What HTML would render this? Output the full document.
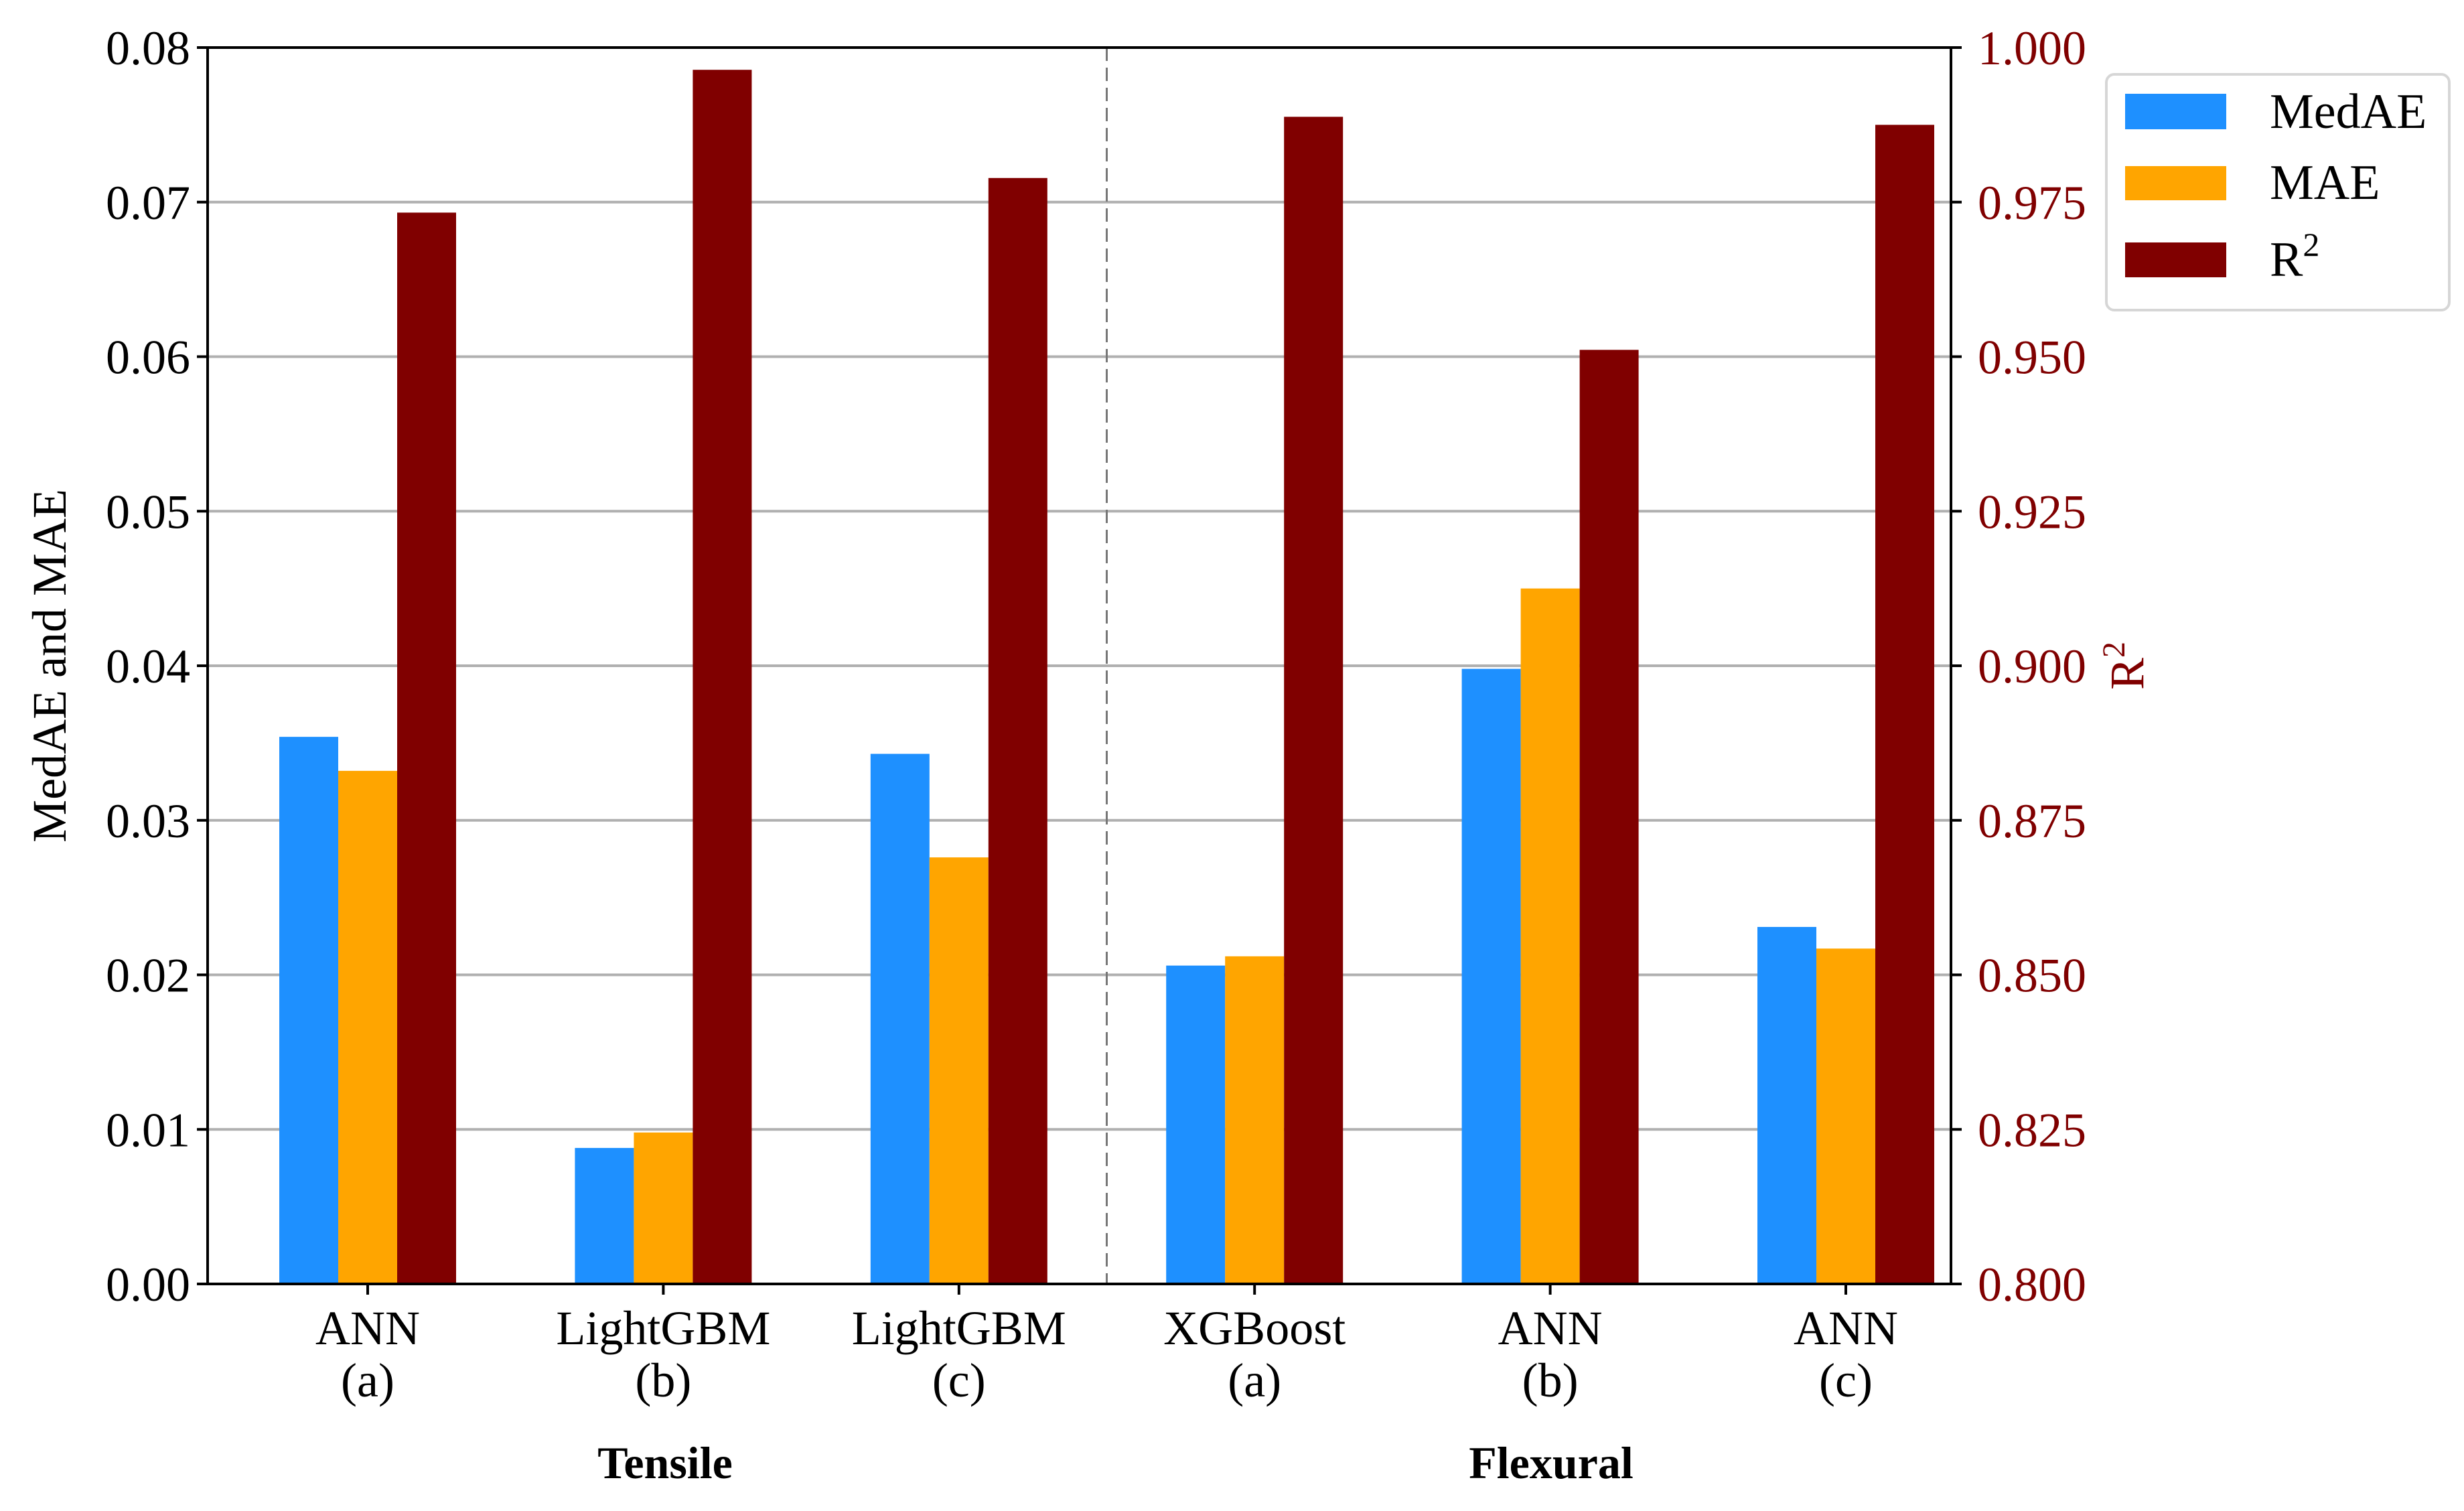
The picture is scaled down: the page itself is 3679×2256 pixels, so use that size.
<!DOCTYPE html>
<html><head><meta charset="utf-8"><style>
html,body{margin:0;padding:0;background:#fff;}
svg{display:block;}
text{font-family:"Liberation Serif",serif;}
</style></head>
<body>
<svg id="chart" width="3679" height="2256" viewBox="0 0 3679 2256" xmlns="http://www.w3.org/2000/svg">
<g id="grid"></g>
<g id="bars"></g>
<g id="axes"></g>
<text x="0" y="0" font-size="72" text-anchor="middle" transform="translate(98,994) rotate(-90)">MedAE and MAE</text>
<text x="0" y="0" font-size="72" fill="#800000" text-anchor="middle" transform="translate(3200,994) rotate(-90)">R<tspan font-size="48" dy="-28">2</tspan></text>
<text x="993" y="2207" font-size="68" font-weight="bold" text-anchor="middle">Tensile</text>
<text x="2316" y="2207" font-size="68" font-weight="bold" text-anchor="middle">Flexural</text>
<g>
<rect x="3145" y="111" width="512" height="352" rx="12" fill="#fff" stroke="#d6d6d6" stroke-width="4"/>
<rect x="3173" y="140" width="151" height="53" fill="#1e90ff"/>
<text x="3389" y="191" font-size="74">MedAE</text>
<rect x="3173" y="248" width="151" height="51" fill="#ffa500"/>
<text x="3389" y="297" font-size="74">MAE</text>
<rect x="3173" y="362" width="151" height="52" fill="#800000"/>
<text x="3389" y="412" font-size="74">R<tspan font-size="50" dy="-30">2</tspan></text>
</g>
</svg>
<script>
const categories = ["ANN", "LightGBM", "LightGBM", "XGBoost", "ANN", "ANN"];
const subLabels = ["(a)", "(b)", "(c)", "(a)", "(b)", "(c)"];
const medae = [0.0354, 0.0088, 0.0343, 0.0206, 0.0398, 0.0231];
const mae = [0.0332, 0.0098, 0.0276, 0.0212, 0.0450, 0.0217];
const r2 = [0.9733, 0.9964, 0.9789, 0.9888, 0.9511, 0.9875];
const leftTicks = [0, 0.01, 0.02, 0.03, 0.04, 0.05, 0.06, 0.07, 0.08];
const leftTickLabels = ["0.00","0.01","0.02","0.03","0.04","0.05","0.06","0.07","0.08"];
const rightTicks = [0.8, 0.825, 0.85, 0.875, 0.9, 0.925, 0.95, 0.975, 1.0];
const rightTickLabels = ["0.800","0.825","0.850","0.875","0.900","0.925","0.950","0.975","1.000"];

const NS = "http://www.w3.org/2000/svg";
const L = 310, R = 2913, T = 71, B = 1917;
const x0 = 549, dx = 441.4, bw = 88;
const xPos = i => x0 + i * dx;
const yL = v => B - (v - 0) / 0.08 * (B - T);
const yR = v => B - (v - 0.8) / 0.2 * (B - T);
function mk(tag, attrs, parent) {
  const e = document.createElementNS(NS, tag);
  for (const k in attrs) e.setAttribute(k, attrs[k]);
  parent.appendChild(e);
  return e;
}
const grid = document.getElementById('grid');
const bars = document.getElementById('bars');
const axes = document.getElementById('axes');

leftTicks.forEach((v, i) => {
  const y = yL(v);
  if (i > 0 && i < leftTicks.length - 1) {
    const g = mk('line', {x1: L, x2: R, y1: y, y2: y, stroke: '#b0b0b0', 'stroke-width': 4}, grid);
    
    
  }
  const t = mk('line', {x1: L - 16, x2: L, y1: y, y2: y, stroke: '#000', 'stroke-width': 4}, axes);
  
  
  const tx = mk('text', {x: L - 26, y: y + 25, 'font-size': 72, 'text-anchor': 'end'}, axes);
  tx.textContent = leftTickLabels[i];
  
  
});
rightTicks.forEach((v, i) => {
  const y = yR(v);
  const t = mk('line', {x1: R, x2: R + 16, y1: y, y2: y, stroke: '#000', 'stroke-width': 4}, axes);
  
  
  const tx = mk('text', {x: R + 40, y: y + 25, 'font-size': 72, fill: '#800000'}, axes);
  tx.textContent = rightTickLabels[i];
  
  
});

const dash = mk('line', {x1: (xPos(2) + xPos(3)) / 2, x2: (xPos(2) + xPos(3)) / 2, y1: T, y2: B, stroke: '#777', 'stroke-width': 3, 'stroke-dasharray': '20 10'}, grid);



categories.forEach((c, i) => {
  const cx = xPos(i);
  const b1 = mk('rect', {x: cx - 1.5 * bw, y: yL(medae[i]), width: bw, height: B - yL(medae[i]), fill: '#1e90ff'}, bars);
  
  
  const b2 = mk('rect', {x: cx - 0.5 * bw, y: yL(mae[i]), width: bw, height: B - yL(mae[i]), fill: '#ffa500'}, bars);
  
  
  const b3 = mk('rect', {x: cx + 0.5 * bw, y: yR(r2[i]), width: bw, height: B - yR(r2[i]), fill: '#800000'}, bars);
  
  
  const t = mk('line', {x1: cx, x2: cx, y1: B, y2: B + 16, stroke: '#000', 'stroke-width': 4}, axes);
  
  
  const l1 = mk('text', {x: cx, y: 2007, 'font-size': 72, 'text-anchor': 'middle'}, axes);
  l1.textContent = c;
  
  
  const l2 = mk('text', {x: cx, y: 2085, 'font-size': 72, 'text-anchor': 'middle'}, axes);
  l2.textContent = subLabels[i];
  
  
});

const frame = mk('rect', {x: L, y: T, width: R - L, height: B - T, fill: 'none', stroke: '#000', 'stroke-width': 4}, axes);


</script>
</body></html>
